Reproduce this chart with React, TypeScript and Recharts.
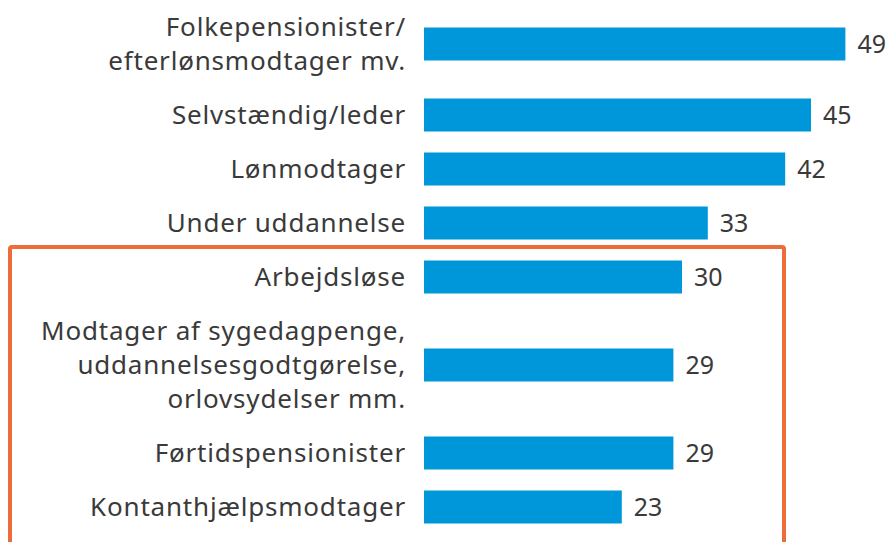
import React from "react";
import { BarChart, Bar, XAxis, YAxis, LabelList } from "recharts";

const categories = [
  "Folkepensionister/\nefterlønsmodtager mv.",
  "Selvstændig/leder",
  "Lønmodtager",
  "Under uddannelse",
  "Arbejdsløse",
  "Modtager af sygedagpenge,\nuddannelsesgodtgørelse,\norlovsydelser mm.",
  "Førtidspensionister",
  "Kontanthjælpsmodtager",
];
const values = [49, 45, 42, 33, 30, 29, 29, 23];

const BAR_COLOR = "#0097da";
const TEXT_COLOR = "#3a3a3a";
const LINE_H = 34;
const ROW_GAP = 54;
const FONT = "'Noto Sans', sans-serif";

// rows with more label lines take more vertical room
const lineCounts = categories.map((c) => c.split("\n").length);
const positions: number[] = [];
lineCounts.forEach((n, i) => {
  if (i === 0) positions.push(0);
  else positions.push(positions[i - 1] + ROW_GAP + (LINE_H / 2) * (lineCounts[i - 1] - 1 + n - 1));
});

const data = categories.map((name, i) => ({ name, pos: positions[i], value: values[i] }));

function CategoryTick(props: any) {
  const { x, y, payload } = props;
  const idx = positions.indexOf(payload.value);
  if (idx < 0) return null;
  const lines = categories[idx].split("\n");
  const startY = y - ((lines.length - 1) * LINE_H) / 2;
  return (
    <text
      x={x}
      y={startY}
      textAnchor="end"
      fill={TEXT_COLOR}
      fontSize={26}
      letterSpacing={0.8}
      fontFamily={FONT}
    >
      {lines.map((l, i) => (
        <tspan key={i} x={x} y={startY + i * LINE_H} dy="0.36em">
          {l}
        </tspan>
      ))}
    </text>
  );
}

export default function App() {
  return (
    <div style={{ position: "relative", width: 895, height: 542, overflow: "hidden", background: "#fff" }}>
      <style>{`body{margin:0}`}</style>
      <BarChart
        width={895}
        height={542}
        data={data}
        layout="vertical"
        margin={{ top: 0, right: 41, bottom: 0, left: 0 }}
      >
        <XAxis type="number" domain={[0, 50]} hide />
        <YAxis
          type="number"
          dataKey="pos"
          domain={[-43.5, 498.5]}
          ticks={positions}
          interval={0}
          width={424}
          axisLine={false}
          tickLine={false}
          tickMargin={12}
          tick={<CategoryTick />}
        />
        <Bar dataKey="value" fill={BAR_COLOR} barSize={33} isAnimationActive={false}>
          <LabelList
            dataKey="value"
            position="right"
            offset={12}
            fill={TEXT_COLOR}
            fontSize={25}
            fontFamily={FONT}
          />
        </Bar>
      </BarChart>
      <div
        style={{
          position: "absolute",
          left: 8,
          top: 245,
          width: 778,
          height: 400,
          border: "4px solid #ee6b3a",
          borderRadius: 4,
          boxSizing: "border-box",
          pointerEvents: "none",
        }}
      />
    </div>
  );
}
